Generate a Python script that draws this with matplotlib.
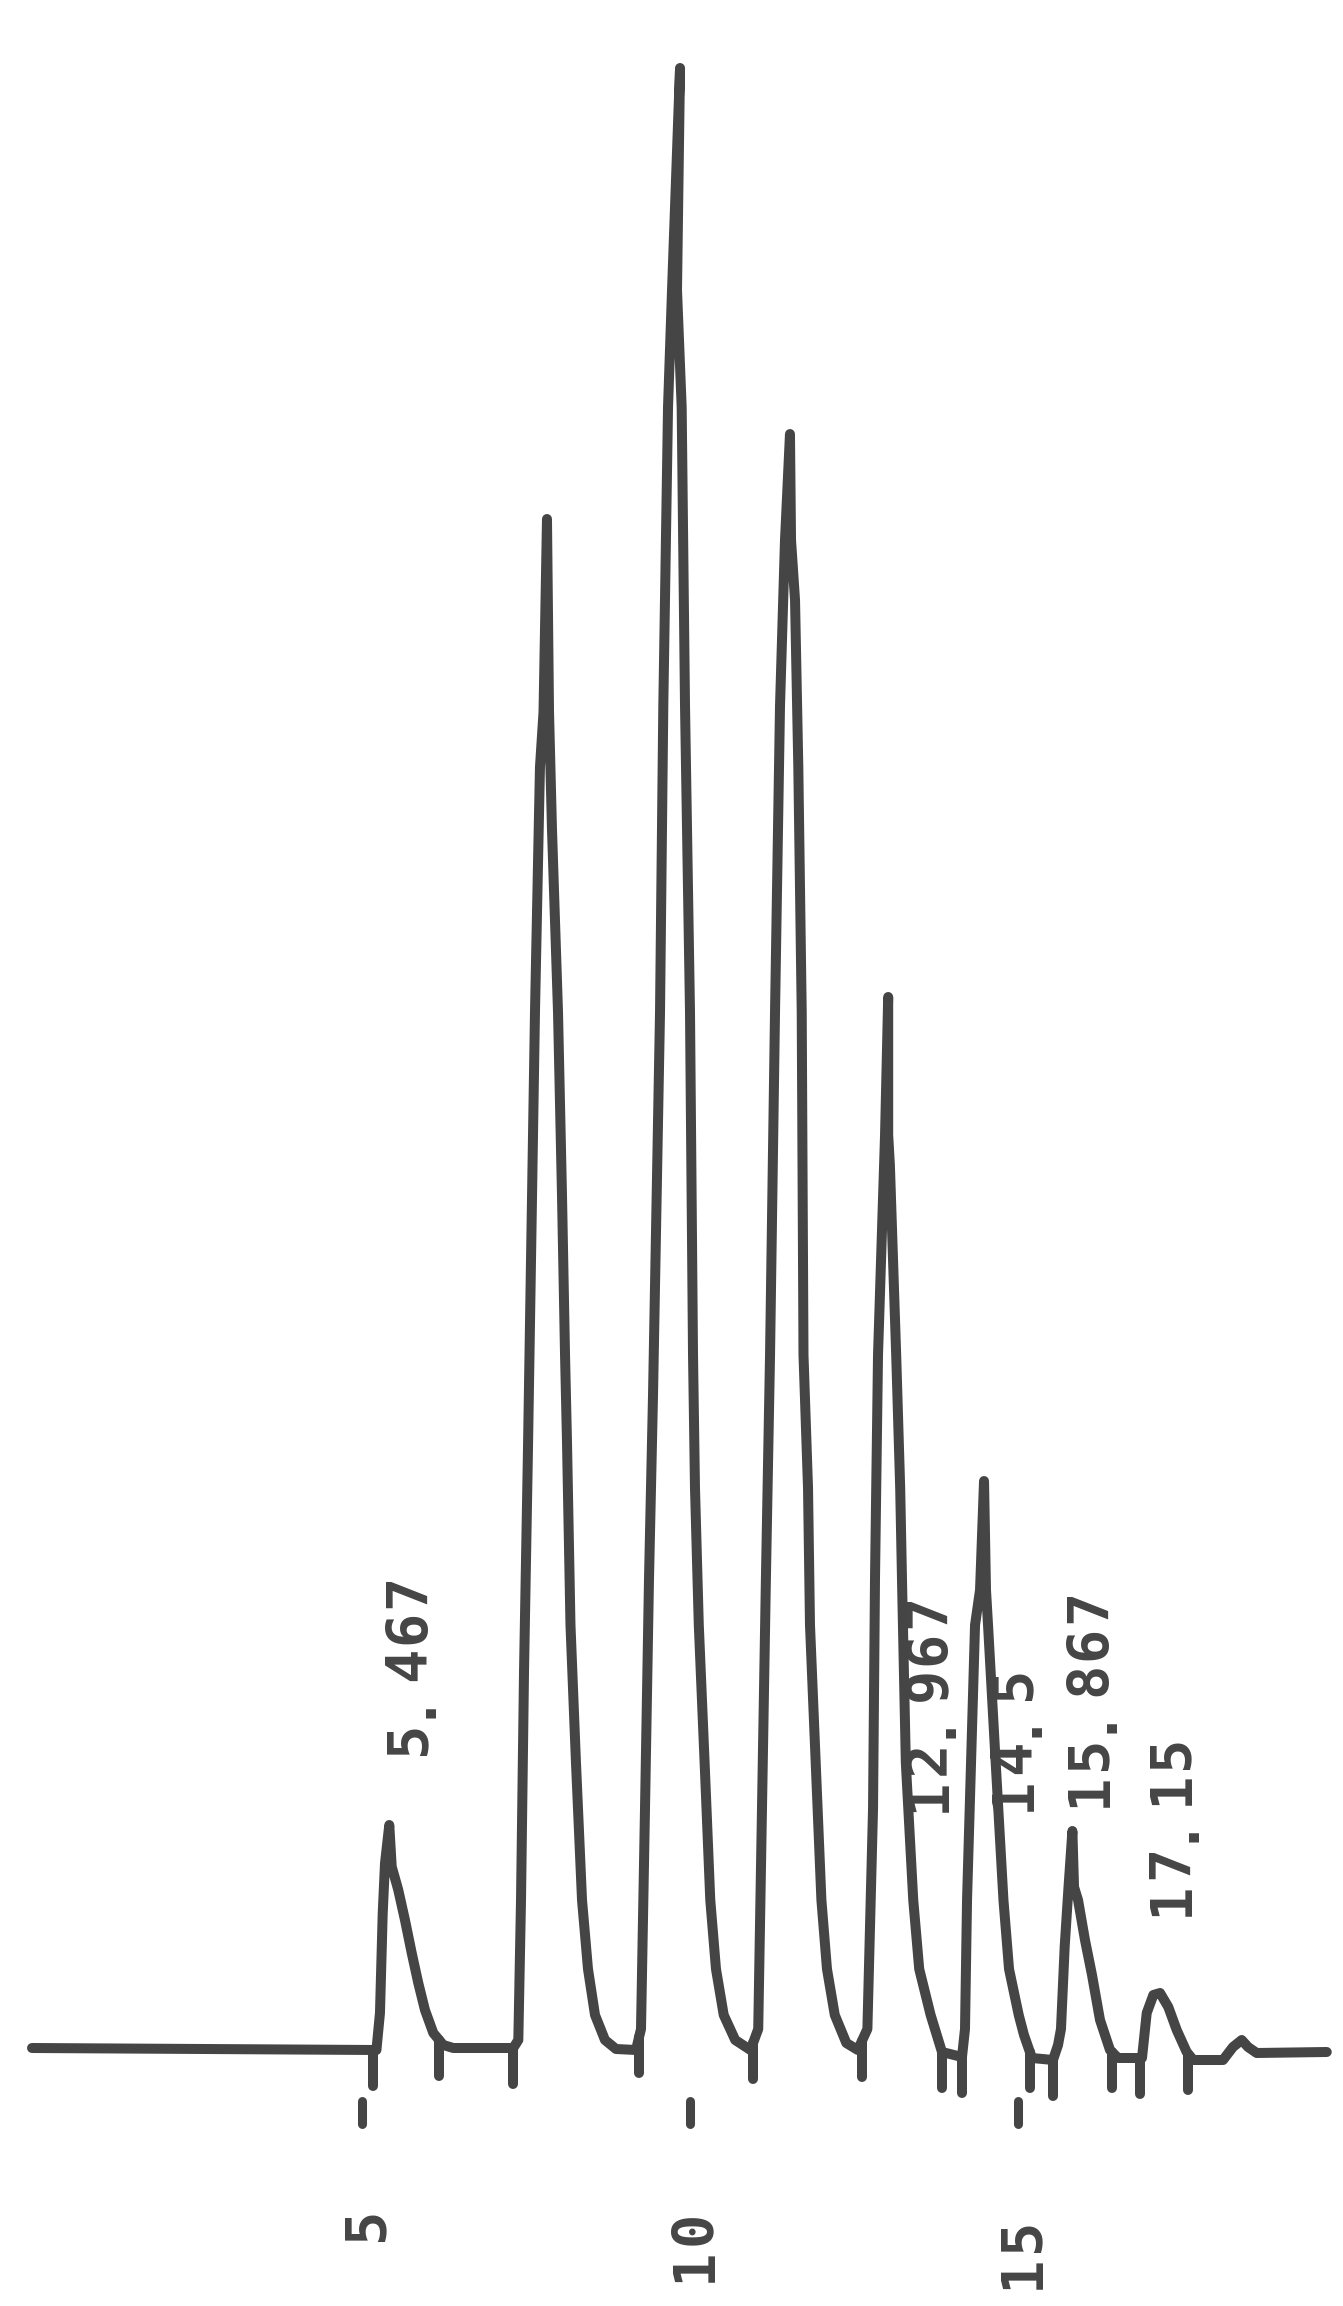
import matplotlib
matplotlib.use('Agg')
import matplotlib.pyplot as plt
import numpy as np

# chromatogram trace: time (min), detector signal (arb. units)
tiempo = [-0.03, 2.53, 5.22,
          5.274, 5.316, 5.351, 5.416, 5.453, 5.553, 5.655, 5.758, 5.858, 5.960, 6.087, 6.239, 6.392, 7.306,
          7.383, 7.424, 7.470, 7.530, 7.637, 7.713, 7.767, 7.820, 7.851, 7.896, 7.988, 8.049, 8.095, 8.125,
          8.178, 8.262, 8.354, 8.445, 8.552, 8.704, 8.872, 9.177,
          9.253, 9.314, 9.375, 9.436, 9.543, 9.593, 9.665, 9.726, 9.848, 9.802, 9.873, 9.924, 10.0, 10.046,
          10.076, 10.134, 10.223, 10.309, 10.396, 10.514, 10.689, 10.922,
          11.040, 11.098, 11.157, 11.220, 11.296, 11.372, 11.448, 11.524, 11.540, 11.601, 11.651, 11.703,
          11.730, 11.799, 11.829, 11.916, 12.003, 12.088, 12.207, 12.383, 12.558,
          12.704, 12.790, 12.820, 12.866, 12.973, 13.021, 13.021, 13.047, 13.143, 13.204, 13.235, 13.290,
          13.403, 13.494, 13.668, 13.841, 14.146,
          14.192, 14.223, 14.284, 14.345, 14.421, 14.482, 14.512, 14.543, 14.660, 14.778, 14.863, 15.011,
          15.091, 15.213, 15.533,
          15.610, 15.655, 15.712, 15.770, 15.829, 15.854, 15.915, 16.021, 16.128, 16.250, 16.402, 16.524, 16.890,
          16.962, 17.063, 17.165, 17.291, 17.419, 17.571, 17.672, 18.125,
          18.277, 18.410, 18.506, 18.639, 19.706]
sinal = [0.10, 0.05, 0.0,
         1.85, 6.85, 9.35, 11.25, 9.17, 8.0, 6.5, 4.85, 3.35, 2.0, 0.85, 0.25, 0.1, 0.1,
         0.5, 7.5, 18.95, 30.0, 51.9, 64.15, 66.9, 76.55, 66.9, 61.05, 51.9, 42.7, 34.75, 30.4,
         21.25, 14.35, 7.5, 4.05, 1.75, 0.5, 0.05, 0.0,
         1.05, 12.05, 23.55, 32.7, 51.9, 67.2, 82.15, 88.0, 99.1, 88.0, 82.15, 67.2, 51.9, 34.75,
         28.1, 21.25, 14.35, 7.5, 4.05, 1.75, 0.5, 0.0,
         1.05, 12.05, 23.55, 34.75, 51.9, 67.2, 75.5, 80.8, 75.5, 72.5, 64.15, 51.9,
         34.75, 28.1, 21.25, 14.35, 7.5, 4.05, 1.75, 0.35, 0.0,
         1.05, 12.05, 23.55, 34.75, 45.75, 52.65, 45.75, 44.25, 34.75, 28.1, 22.95, 14.35,
         7.5, 4.05, 1.75, -0.1, -0.35,
         1.05, 7.5, 14.35, 21.25, 23.0, 28.45, 23.0, 21.25, 14.35, 7.5, 4.05, 1.75,
         0.75, -0.4, -0.5,
         0.25, 1.05, 5.2, 8.15, 10.95, 8.15, 7.5, 5.5, 3.75, 1.5, 0.0, -0.4, -0.4,
         1.85, 2.75, 2.85, 2.15, 1.0, -0.1, -0.5, -0.5,
         0.15, 0.5, 0.15, -0.15, -0.1]

# integration marks under the baseline (min)
marcas = [5.168, 6.174, 7.302, 9.223, 10.960, 12.622, 13.841, 14.146,
          15.183, 15.533, 16.433, 16.860, 17.591]

# retention time labels (printed bottom to top)
rotulos = ['5.467', '12.967', '14.5', '15.867', '17.15']
rotulo_t = [5.640, 13.567, 14.863, 16.021, 17.271]
rotulo_s = [14.7, 11.85, 11.9, 12.1, 6.65]

# time axis
eixo_t = [5, 10, 15]
eixo_txt = ['5', '10', '15']
eixo_s = [-9.62, -11.67, -12.02]

cor = '#454545'
passo = 1.84      # printer character pitch, in signal units
meia_alt = 0.32   # half character height, in minutes

fig = plt.figure(figsize=(13.43, 23.06), dpi=100)
ax = fig.add_axes([0, 0, 1, 1])
ax.set_xlim(-0.518, 19.954)
ax.set_ylim(-12.8, 102.5)
ax.axis('off')

ax.plot(tiempo, sinal, color=cor, lw=7.2, solid_joinstyle='round', solid_capstyle='round')

for m in marcas:
    topo = np.interp(m, tiempo, sinal)
    ax.plot([m, m], [topo, topo - 1.8], color=cor, lw=7.2, solid_capstyle='round')

for t in eixo_t:
    ax.plot([t, t], [-2.55, -3.7], color=cor, lw=6.5, solid_capstyle='round')


def imprime(txt, t, s0):
    for i, ch in enumerate(txt):
        ax.text(t + meia_alt, s0 + (i + 0.5) * passo, ch, rotation=90,
                rotation_mode='anchor', ha='center', va='baseline', color=cor,
                fontsize=41, fontweight='bold', family='DejaVu Sans Mono')


for txt, t, s in zip(eixo_txt, eixo_t, eixo_s):
    imprime(txt, t, s)

for txt, t, s in zip(rotulos, rotulo_t, rotulo_s):
    imprime(txt, t, s)

plt.savefig('out.png', dpi=100, facecolor='white')
